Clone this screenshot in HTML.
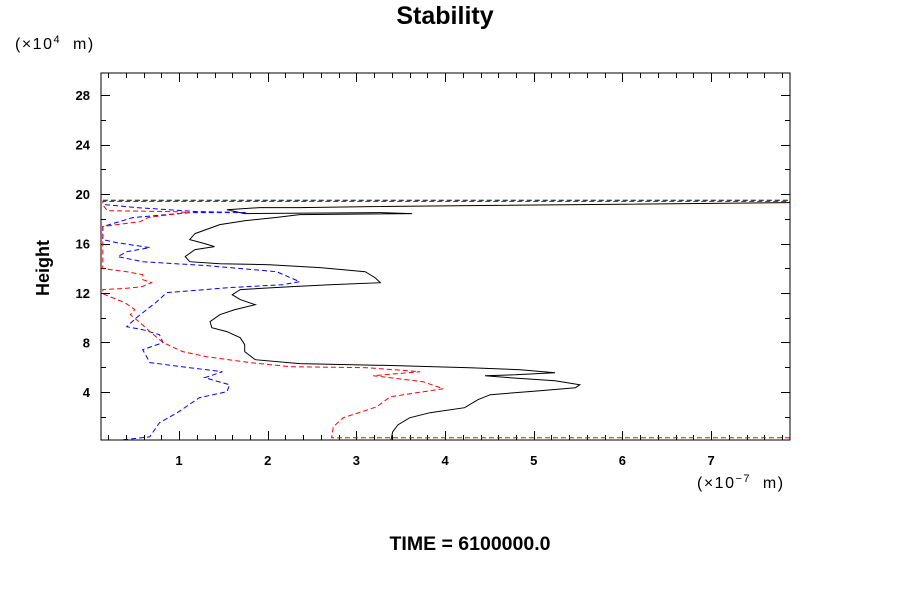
<!DOCTYPE html>
<html><head><meta charset="utf-8"><style>
body{margin:0;background:#fff;}
svg{display:block;font-family:"Liberation Sans",sans-serif;}
</style></head><body>
<svg id="chart" width="900" height="600" viewBox="0 0 900 600">
<rect width="900" height="600" fill="#fff"/>
<text x="445" y="24" font-size="25" font-weight="bold" text-anchor="middle">Stability</text>
<text x="15" y="49" font-size="16" letter-spacing="1.5" xml:space="preserve">(×10<tspan font-size="11" dy="-6">4</tspan><tspan dy="6">  m)</tspan></text>
<text transform="translate(49,268) rotate(-90)" font-size="18" font-weight="bold" text-anchor="middle">Height</text>
<text x="697" y="488" font-size="16" letter-spacing="1.5" xml:space="preserve">(×10<tspan font-size="11" dy="-6">−7</tspan><tspan dy="6">  m)</tspan></text>
<text x="470" y="550" font-size="19.5" font-weight="bold" text-anchor="middle">TIME = 6100000.0</text>
<g id="ticks"></g>
<g id="series"></g>
<rect x="101" y="73" width="689" height="367" fill="none" stroke="#000" stroke-width="1"/>
</svg>
<script>
const xTicks = [1,2,3,4,5,6,7];
const yTicks = [4,8,12,16,20,24,28];
const blackX = [3.39,3.41,3.47,3.60,3.83,4.22,4.37,4.51,5.07,5.47,5.52,5.24,4.73,4.45,4.79,5.24,4.85,4.28,3.49,2.36,1.86,1.74,1.74,1.69,1.54,1.37,1.35,1.46,1.63,1.86,1.69,1.60,1.69,2.25,2.70,3.27,3.21,3.10,2.84,2.59,2.02,1.46,1.12,1.07,1.18,1.40,1.29,1.12,1.18,1.46,1.74,2.08,2.36,3.63,3.27,1.74,1.54,1.91,2.36,3.15,7.89];
const blackH = [0.12,0.77,1.34,1.90,2.31,2.71,3.36,3.77,4.09,4.33,4.57,4.90,5.14,5.30,5.38,5.55,5.79,5.95,6.11,6.28,6.60,7.25,7.81,8.38,8.87,9.19,9.68,10.24,10.65,11.05,11.46,11.86,12.27,12.51,12.67,12.83,13.24,13.72,13.89,14.05,14.29,14.37,14.53,14.94,15.51,15.75,15.99,16.32,16.80,17.53,17.85,18.10,18.34,18.42,18.50,18.42,18.74,18.91,18.91,18.99,19.31];
const redX = [7.89,2.72,2.74,2.85,3.23,3.38,3.98,3.75,3.19,3.72,3.12,2.25,1.80,1.31,1.04,0.82,0.67,0.56,0.45,0.50,0.39,0.22,0.14,0.14,0.37,0.58,0.69,0.59,0.59,0.41,0.14,0.14,0.14,0.30,0.56,0.65,0.90,1.12,0.93,0.19,0.14,0.14,7.89];
const redH = [0.28,0.28,1.17,1.90,2.79,3.60,4.25,4.82,5.30,5.63,5.95,6.03,6.36,6.84,7.25,7.98,8.87,9.60,10.24,10.65,11.21,11.70,11.94,12.27,12.35,12.51,12.83,13.08,13.48,13.72,13.97,15.67,17.37,17.53,17.77,18.10,18.34,18.50,18.58,18.66,19.15,19.40,19.40];
const blueX = [0.37,0.67,0.78,0.98,1.23,1.54,1.57,1.29,1.49,1.12,0.67,0.59,0.82,0.78,0.59,0.41,0.52,0.75,0.86,1.57,2.17,2.36,2.10,1.31,0.59,0.31,0.41,0.67,0.30,0.14,0.14,0.48,1.12,1.77,1.20,0.52,0.16];
const blueH = [0.12,0.36,1.50,2.31,3.52,4.01,4.57,5.14,5.63,5.95,6.36,7.41,7.98,8.62,9.03,9.27,10.0,11.30,12.02,12.43,12.67,12.91,13.72,14.21,14.53,14.94,15.34,15.67,16.07,16.32,17.37,18.10,18.50,18.50,18.58,18.91,19.15];
const topDashX = [0.14,7.89];
const topDashH = [19.5,19.5];

const NS = "http://www.w3.org/2000/svg";
const X0=101, X1=790, Y0=440, Y1=73;
const xMin=0.12, xMax=7.89, hMin=0.1, hMax=29.8;
function sx(v){return X0+(v-xMin)/(xMax-xMin)*(X1-X0);}
function sy(v){return Y0-(v-hMin)/(hMax-hMin)*(Y0-Y1);}
const tg=document.getElementById('ticks');
function line(x1,y1,x2,y2){const l=document.createElementNS(NS,'line');l.setAttribute('x1',x1);l.setAttribute('y1',y1);l.setAttribute('x2',x2);l.setAttribute('y2',y2);l.setAttribute('stroke','#000');


tg.appendChild(l);}
for(let i=1;i<=39;i++){const v=i*0.2;if(v<xMin||v>xMax)continue;const X=Math.round(sx(v))+0.5;const big=Math.abs(v-Math.round(v))<1e-6;const len=big?9:5;line(X,Y0,X,Y0-len);line(X,Y1,X,Y1+len);}
for(let v=2;v<=28;v+=2){const Y=Math.round(sy(v))+0.5;const big=v%4===0;const len=big?9:5;line(X0,Y,X0+len,Y);line(X1,Y,X1-len,Y);}
xTicks.forEach(v=>{const t=document.createElementNS(NS,'text');t.setAttribute('x',sx(v));t.setAttribute('y',465);t.setAttribute('font-size','13');t.setAttribute('font-weight','bold');t.setAttribute('text-anchor','middle');t.textContent=v;


tg.appendChild(t);});
yTicks.forEach(v=>{const t=document.createElementNS(NS,'text');t.setAttribute('x',90);t.setAttribute('y',sy(v)+5);t.setAttribute('font-size','13');t.setAttribute('font-weight','bold');t.setAttribute('text-anchor','end');t.textContent=v;


tg.appendChild(t);});
const sg=document.getElementById('series');
function series(xs,hs,color,dash,name){const p=document.createElementNS(NS,'polyline');p.setAttribute('points',xs.map((v,i)=>sx(v).toFixed(1)+','+sy(hs[i]).toFixed(1)).join(' '));p.setAttribute('fill','none');p.setAttribute('stroke',color);p.setAttribute('stroke-width','1');if(dash)p.setAttribute('stroke-dasharray',dash);


sg.appendChild(p);}
series(topDashX,topDashH,'#000','5,3','black-dashed-top-line');
series(blackX,blackH,'#000',null,'black-solid-series');
series(blueX,blueH,'#0000ff','5,3','blue-dashed-series');
series(redX,redH,'#ff0000','5,3','red-dashed-series');
</script>
</body></html>
